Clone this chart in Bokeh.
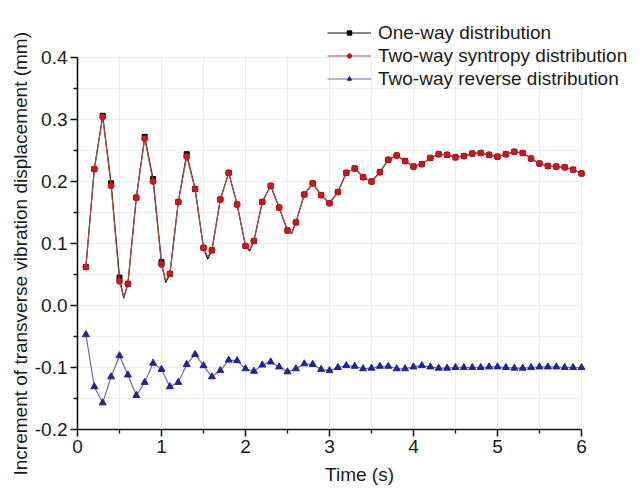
from bokeh.plotting import figure
from bokeh.models import Range1d, FixedTicker, Legend, LegendItem, PrintfTickFormatter, Title
from bokeh.embed import file_html
from bokeh.resources import INLINE

# ---- data ----
time_s = [0.1, 0.2, 0.3, 0.4, 0.5, 0.6, 0.7, 0.8, 0.9, 1.0,
          1.1, 1.2, 1.3, 1.4, 1.5, 1.6, 1.7, 1.8, 1.9, 2.0,
          2.1, 2.2, 2.3, 2.4, 2.5, 2.6, 2.7, 2.8, 2.9, 3.0,
          3.1, 3.2, 3.3, 3.4, 3.5, 3.6, 3.7, 3.8, 3.9, 4.0,
          4.1, 4.2, 4.3, 4.4, 4.5, 4.6, 4.7, 4.8, 4.9, 5.0,
          5.1, 5.2, 5.3, 5.4, 5.5, 5.6, 5.7, 5.8, 5.9, 6.0]

one_way = [0.062, 0.220, 0.306, 0.197, 0.045, 0.035, 0.174, 0.272, 0.204, 0.070,
           0.051, 0.167, 0.244, 0.188, 0.093, 0.089, 0.171, 0.214, 0.163, 0.096,
           0.104, 0.167, 0.193, 0.158, 0.121, 0.134, 0.179, 0.197, 0.178, 0.165,
           0.183, 0.214, 0.221, 0.207, 0.200, 0.215, 0.235, 0.242, 0.233, 0.224,
           0.228, 0.238, 0.244, 0.243, 0.239, 0.241, 0.245, 0.246, 0.243, 0.240,
           0.244, 0.248, 0.246, 0.237, 0.229, 0.225, 0.224, 0.223, 0.219, 0.213]

syntropy = [0.062, 0.220, 0.304, 0.193, 0.039, 0.035, 0.174, 0.269, 0.200, 0.066,
            0.051, 0.167, 0.240, 0.188, 0.093, 0.089, 0.171, 0.214, 0.163, 0.096,
            0.104, 0.167, 0.193, 0.158, 0.121, 0.134, 0.179, 0.197, 0.178, 0.165,
            0.183, 0.214, 0.221, 0.207, 0.200, 0.215, 0.235, 0.242, 0.233, 0.224,
            0.228, 0.238, 0.244, 0.243, 0.239, 0.241, 0.245, 0.246, 0.243, 0.240,
            0.244, 0.248, 0.246, 0.237, 0.229, 0.225, 0.224, 0.223, 0.219, 0.213]

reverse = [-0.047, -0.131, -0.157, -0.115, -0.081, -0.112, -0.145, -0.124, -0.093, -0.103,
           -0.131, -0.124, -0.095, -0.079, -0.097, -0.115, -0.105, -0.088, -0.089, -0.102,
           -0.106, -0.096, -0.091, -0.099, -0.107, -0.102, -0.094, -0.095, -0.103, -0.105,
           -0.100, -0.097, -0.098, -0.102, -0.101, -0.098, -0.098, -0.102, -0.102, -0.099,
           -0.097, -0.099, -0.101, -0.101, -0.100, -0.100, -0.100, -0.100, -0.099, -0.099,
           -0.100, -0.101, -0.101, -0.100, -0.099, -0.099, -0.099, -0.100, -0.100, -0.100]

# minima of the smooth curves between markers
trough_t = [0.55, 1.05, 1.55, 2.05, 2.55]
trough_one_way = [0.012, 0.037, 0.075, 0.088, 0.116]
trough_syntropy = [0.014, 0.040, 0.079, 0.090, 0.117]

labels = ["One-way distribution", "Two-way syntropy distribution", "Two-way reverse distribution"]
x_title = "Time (s)"
y_title = "Increment of transverse vibration displacement (mm)"
x_ticks = [0, 1, 2, 3, 4, 5, 6]
x_minor = [0.5, 1.5, 2.5, 3.5, 4.5, 5.5]
y_ticks = [-0.2, -0.1, 0.0, 0.1, 0.2, 0.3, 0.4]
y_minor = [-0.15, -0.05, 0.05, 0.15, 0.25, 0.35]


def merged(t_main, v_main, t_extra, v_extra):
    pts = sorted(list(zip(t_main, v_main)) + list(zip(t_extra, v_extra)))
    return [q[0] for q in pts], [q[1] for q in pts]


FONT = "Liberation Sans"
FS = "19px"

# data box of 504 x 372 px; the frame is extended up/right so the legend can overlap it
W, H = 641, 491
ML, MB = 77, 62
BOX_W, BOX_H = 504.0, 372.0
FW, FH = W - ML, H - MB
x_lo, x_hi = x_ticks[0], x_ticks[-1]
y_lo, y_hi = y_ticks[0], y_ticks[-1]
x_end = x_lo + (x_hi - x_lo) * FW / BOX_W
y_end = y_lo + (y_hi - y_lo) * FH / BOX_H

p = figure(width=W, height=H, output_backend="svg", toolbar_location=None,
           x_range=Range1d(x_lo, x_end), y_range=Range1d(y_lo, y_end),
           min_border_left=ML, min_border_right=0, min_border_top=0, min_border_bottom=MB)
p.outline_line_color = None
p.background_fill_color = "white"
p.border_fill_color = "white"
p.xgrid.visible = False
p.ygrid.visible = False

for ax in (p.xaxis[0], p.yaxis[0]):
    ax.axis_line_width = 1.6
    ax.axis_line_color = "#111111"
    ax.major_tick_line_color = "#111111"
    ax.minor_tick_line_color = "#111111"
    ax.major_tick_line_width = 1.5
    ax.minor_tick_line_width = 1.3
    ax.major_tick_out = 7
    ax.major_tick_in = 0
    ax.minor_tick_out = 4
    ax.minor_tick_in = 0
    ax.major_label_text_font = FONT
    ax.major_label_text_font_size = FS
    ax.major_label_text_color = "#1a1a1a"
    ax.axis_label_text_font = FONT
    ax.axis_label_text_font_size = FS
    ax.axis_label_text_font_style = "normal"
    ax.axis_label_text_color = "#1a1a1a"
    ax.major_label_standoff = 3

p.xaxis[0].ticker = FixedTicker(ticks=x_ticks, minor_ticks=x_minor)
p.yaxis[0].ticker = FixedTicker(ticks=y_ticks, minor_ticks=y_minor)
p.xaxis[0].bounds = (x_lo, x_hi)
p.yaxis[0].bounds = (y_lo, y_hi)
p.yaxis[0].formatter = PrintfTickFormatter(format="%.1f")
p.xaxis[0].axis_label = x_title
p.xaxis[0].axis_label_standoff = 8

# y title as a side title, anchored at its start so it sits like the reference's
ytitle = Title(text=y_title, align="left", offset=-46, text_font=FONT, text_font_size=FS,
               text_font_style="normal", text_color="#1a1a1a", standoff=2)
p.add_layout(ytitle, "left")

# faint grid at every major and minor tick, limited to the data box
gx = sorted(x_ticks[1:] + x_minor)
gy = sorted(y_ticks[1:] + y_minor)
p.segment(x0=gx, x1=gx, y0=[y_lo] * len(gx), y1=[y_hi] * len(gx), line_color="#ececec", line_width=1)
p.segment(x0=[x_lo] * len(gy), x1=[x_hi] * len(gy), y0=gy, y1=gy, line_color="#ececec", line_width=1)

t1, v1 = merged(time_s, one_way, trough_t, trough_one_way)
t2, v2 = merged(time_s, syntropy, trough_t, trough_syntropy)

l1 = p.line(t1, v1, line_color="#111111", line_width=1.2)
m1 = p.scatter(time_s, one_way, marker="square", size=5, fill_color="#000000", line_color="#000000")
l2 = p.line(t2, v2, line_color="#b84a4a", line_width=1.1)
m2 = p.scatter(time_s, syntropy, marker="circle", size=6, fill_color="#d0161c", line_color="#c0141a")
l3 = p.line(time_s, reverse, line_color="#6a6ab8", line_width=1.2)
m3 = p.scatter(time_s, reverse, marker="triangle", size=7, fill_color="#22229a", line_color="#22229a")

legend = Legend(items=[LegendItem(label=labels[0], renderers=[l1, m1]),
                       LegendItem(label=labels[1], renderers=[l2, m2]),
                       LegendItem(label=labels[2], renderers=[l3, m3])],
                location=(250, 339))
legend.border_line_color = None
legend.background_fill_alpha = 0
legend.padding = 0
legend.spacing = 0
legend.margin = 0
legend.glyph_width = 44
legend.glyph_height = 11
legend.label_height = 23
legend.label_standoff = 7
legend.label_text_font = FONT
legend.label_text_font_size = FS
legend.label_text_color = "#1a1a1a"
p.add_layout(legend, "center")

open("out.html", "w").write(file_html(p, INLINE))
